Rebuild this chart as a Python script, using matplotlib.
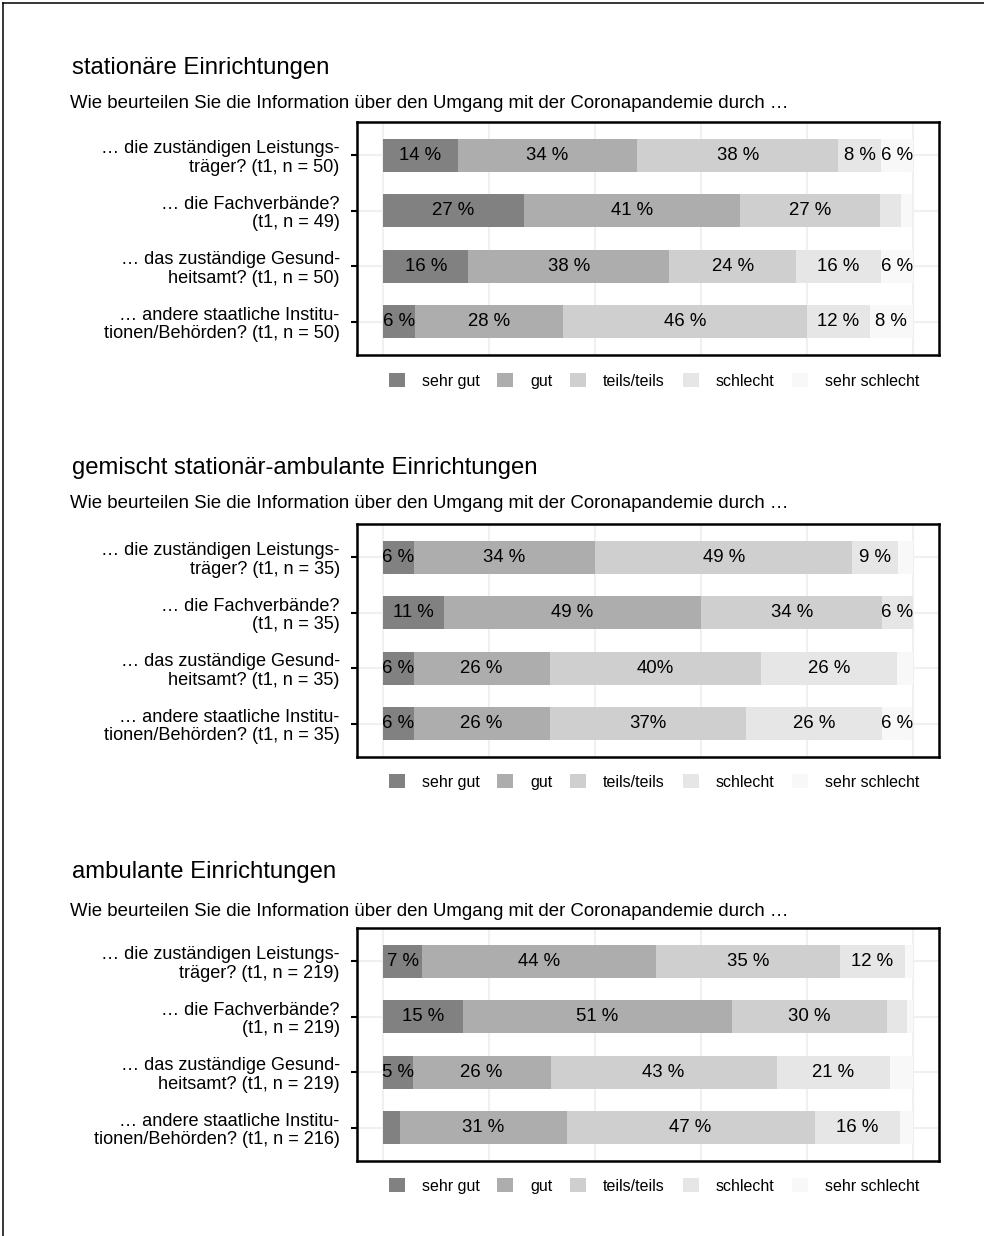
import matplotlib
matplotlib.use("Agg")
import matplotlib.pyplot as plt
from matplotlib.patches import Patch
from matplotlib.lines import Line2D
import numpy as np

plt.rcParams['font.family'] = ['Liberation Sans', 'DejaVu Sans']

# answer categories and their grey shades
categories = ['sehr gut', 'gut', 'teils/teils', 'schlecht', 'sehr schlecht']
shades = ['#818181', '#adadad', '#cfcfcf', '#e6e6e6', '#f8f8f8']

titles = ['stationäre Einrichtungen',
          'gemischt stationär-ambulante Einrichtungen',
          'ambulante Einrichtungen']
question = 'Wie beurteilen Sie die Information über den Umgang mit der Coronapandemie durch …'

items_p1 = ['… die zuständigen Leistungs-\nträger? (t1, n = 50)',
            '… die Fachverbände?\n(t1, n = 49)',
            '… das zuständige Gesund-\nheitsamt? (t1, n = 50)',
            '… andere staatliche Institu-\ntionen/Behörden? (t1, n = 50)']
items_p2 = ['… die zuständigen Leistungs-\nträger? (t1, n = 35)',
            '… die Fachverbände?\n(t1, n = 35)',
            '… das zuständige Gesund-\nheitsamt? (t1, n = 35)',
            '… andere staatliche Institu-\ntionen/Behörden? (t1, n = 35)']
items_p3 = ['… die zuständigen Leistungs-\nträger? (t1, n = 219)',
            '… die Fachverbände?\n(t1, n = 219)',
            '… das zuständige Gesund-\nheitsamt? (t1, n = 219)',
            '… andere staatliche Institu-\ntionen/Behörden? (t1, n = 216)']

# shares in percent, one row per item, columns follow `categories`
shares_p1 = [[14, 34, 38, 8, 6],
             [26.5, 40.8, 26.5, 4.1, 2.0],
             [16, 38, 24, 16, 6],
             [6, 28, 46, 12, 8]]
shares_p2 = [[5.7, 34.3, 48.6, 8.6, 2.9],
             [11.4, 48.6, 34.3, 5.7, 0],
             [5.7, 25.7, 40.0, 25.7, 2.9],
             [5.7, 25.7, 37.1, 25.7, 5.7]]
shares_p3 = [[7.2, 44.4, 34.6, 12.3, 1.5],
             [15.1, 50.7, 29.4, 3.8, 1.0],
             [5.5, 26.1, 42.7, 21.5, 4.2],
             [3.2, 31.4, 46.9, 16.1, 2.4]]

# segment labels as printed in the report
texts_p1 = [['14 %', '34 %', '38 %', '8 %', '6 %'],
            ['27 %', '41 %', '27 %', '', ''],
            ['16 %', '38 %', '24 %', '16 %', '6 %'],
            ['6 %', '28 %', '46 %', '12 %', '8 %']]
texts_p2 = [['6 %', '34 %', '49 %', '9 %', ''],
            ['11 %', '49 %', '34 %', '6 %', ''],
            ['6 %', '26 %', '40%', '26 %', ''],
            ['6 %', '26 %', '37%', '26 %', '6 %']]
texts_p3 = [['7 %', '44 %', '35 %', '12 %', ''],
            ['15 %', '51 %', '30 %', '', ''],
            ['5 %', '26 %', '43 %', '21 %', ''],
            ['', '31 %', '47 %', '16 %', '']]

W, H = 984, 1236
fig = plt.figure(figsize=(W / 100, H / 100), dpi=100)

# outer frame (left and top edge of the page box)
fig.add_artist(Line2D([3 / W, 3 / W], [0, 1 - 3 / H], color='black', lw=1.1))
fig.add_artist(Line2D([3 / W, 1], [1 - 3 / H, 1 - 3 / H], color='black', lw=1.1))

panels = [
    (items_p1, shares_p1, texts_p1, 68, 103, 122, 381),
    (items_p2, shares_p2, texts_p2, 468, 503, 524, 782),
    (items_p3, shares_p3, texts_p3, 872, 912, 928, 1186),
]

ax_left, ax_right, ax_h = 357, 939, 233

for k, (items, shares, texts, y_title, y_sub, y_top, y_leg) in enumerate(panels):
    fig.text(72 / W, 1 - y_title / H, titles[k], fontsize=17.2, va='center', ha='left')
    fig.text(70 / W, 1 - y_sub / H, question, fontsize=13.4, va='center', ha='left')

    ax = fig.add_axes([ax_left / W, 1 - (y_top + ax_h) / H,
                       (ax_right - ax_left) / W, ax_h / H])
    vals = np.array(shares) / 100
    ypos = np.arange(1, len(items) + 1)
    left = np.zeros(len(items))
    for j, cat in enumerate(categories):
        ax.barh(ypos, vals[:, j], left=left, height=0.6, color=shades[j],
                edgecolor='none', zorder=2, label=cat)
        for i in range(len(items)):
            if texts[i][j]:
                ax.text(left[i] + vals[i, j] / 2, ypos[i], texts[i][j],
                        ha='center', va='center', fontsize=13.4, color='black', zorder=3)
        left += vals[:, j]

    ax.set_xlim(-0.05, 1.05)
    ax.set_ylim(4.6, 0.4)
    ax.set_xticks(np.arange(0, 1.01, 0.2))
    ax.set_xticklabels([])
    ax.tick_params(axis='x', length=0)
    ax.set_yticks(ypos)
    ax.set_yticklabels(items, fontsize=13.1, linespacing=1.1)
    ax.tick_params(axis='y', length=4.5, width=1.5, pad=8, color='black')
    ax.grid(True, color='#f0f0f0', lw=1.5, zorder=0)
    for sp in ax.spines.values():
        sp.set_linewidth(1.8)
        sp.set_color('black')

    handles = [Patch(facecolor=c, edgecolor='none') for c in shades]
    fig.legend(handles, categories, loc='center', ncol=5, frameon=False,
               bbox_to_anchor=(654 / W, 1 - y_leg / H), fontsize=11.5,
               handlelength=1.0, handleheight=1.0, handletextpad=1.05,
               columnspacing=1.12)

fig.savefig('out.png', dpi=100)
